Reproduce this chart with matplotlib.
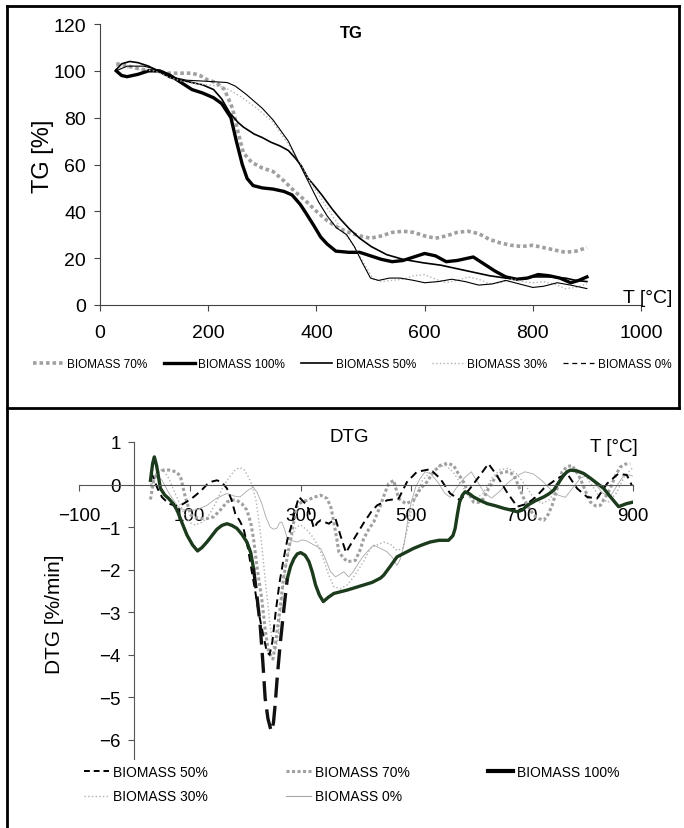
import numpy as np
import matplotlib
matplotlib.use('Agg')
import matplotlib.pyplot as plt
from matplotlib.lines import Line2D

plt.rcParams.update({'font.family': 'Liberation Sans', 'font.size': 12})

# ---- TG data (T in degC, mass in %) ----
tg70_t = [30, 45, 60, 80, 100, 125, 150, 170, 185, 200, 215, 230, 245, 255, 265, 280, 300, 320, 340, 360,
          380, 400, 420, 440, 460, 480, 500, 520, 540, 560, 580, 600, 620, 640, 660, 680, 700, 720, 740, 760,
          780, 800, 820, 840, 860, 880, 900]
tg70 = [103, 102.5, 101.5, 100.5, 100, 99, 99, 99, 98, 96, 95, 92, 84, 74, 65, 61, 58.5, 57, 53, 48.5,
        44.5, 40, 36, 33, 31, 29.5, 28.5, 29.5, 31, 31.5, 31, 29.5, 28.5, 29.5, 31, 31.5, 30.5, 28, 26.5, 25.5,
        25, 25.5, 24.5, 23.5, 22.5, 23, 24.5]

tg100_t = [30, 40, 50, 70, 90, 110, 130, 150, 170, 190, 210, 225, 242, 252, 263, 272, 283, 300, 320, 340,
           355, 370, 380, 395, 408, 420, 436, 460, 480, 500, 520, 540, 560, 580, 600, 620, 640, 660, 690, 710,
           730, 750, 770, 790, 810, 830, 850, 870, 885, 900]
tg100 = [100, 98, 97.5, 98.5, 100, 100, 98, 95, 92, 90.5, 88.5, 86, 80, 70, 60, 54, 51, 50, 49.5, 48.5,
         47, 43, 39.5, 34, 29, 26, 23, 22.5, 22.5, 21, 19.5, 18.5, 19, 20.5, 22, 21, 18.5, 19, 20.5, 17.5,
         14.5, 12, 11, 11.5, 13, 12.5, 11.5, 9.5, 10.5, 12]

tg50_t = [30, 40, 55, 70, 90, 110, 130, 150, 170, 190, 210, 225, 240, 255, 265, 285, 300, 316, 332, 348,
          360, 372, 385, 396, 410, 429, 445, 461, 480, 501, 530, 560, 598, 630, 660, 690, 720, 750, 780, 800,
          830, 860, 880, 900]
tg50 = [100.5, 103, 104, 103.5, 102, 99.5, 97, 96, 95, 94, 92, 88, 82, 78, 76, 73, 71.5, 69.5, 68, 66,
        63, 59.5, 54, 51, 47, 41, 36.5, 32.5, 28.5, 25, 21.5, 19.5, 18, 17, 15.5, 14, 12.5, 11.5, 11, 12,
        12, 11.5, 10.5, 10]

tg30_t = [30, 60, 100, 130, 160, 200, 230, 260, 290, 320, 350, 370, 390, 410, 430, 450, 470, 490, 505, 520,
          540, 560, 580, 600, 620, 640, 660, 680, 700, 720, 740, 760, 780, 800, 820, 840, 860, 880, 900]
tg30 = [102, 101, 100, 97, 95, 94, 93, 89, 84, 78, 68, 60, 52, 45, 38, 31, 25, 17, 11, 10,
        10.5, 11, 12.5, 13, 11, 9.5, 10.5, 12, 11, 9, 9.5, 11, 10, 9.5, 10, 9, 7, 7.5, 9]

tg0_t = [30, 50, 80, 100, 130, 160, 200, 235, 250, 270, 300, 320, 348, 365, 380, 404, 420, 437, 456, 470,
         485, 500, 515, 535, 555, 580, 600, 625, 650, 675, 700, 725, 750, 775, 800, 820, 845, 870, 900]
tg0 = [100, 102, 102, 101, 97.5, 96, 95.5, 95, 93.5, 90, 84, 79, 70, 62, 55, 44, 38, 33, 30, 25,
       18, 11.5, 10.5, 11.5, 11.5, 10.5, 9.5, 10, 11, 10, 8.5, 9, 10.5, 9, 7.5, 8, 9.5, 8.5, 7]

# ---- DTG data (T in degC, rate in %/min) ----
dtg100_t = [29, 33, 36, 40, 47, 55, 62, 70, 77, 86, 95, 105, 114, 122, 131, 140, 149, 158, 167, 176,
            185, 194, 203, 210, 215, 221, 227, 232, 236, 241, 247, 251, 254, 258, 263, 270, 276, 282, 288, 294,
            300, 308, 315, 321, 327, 334, 341, 350, 360, 372, 384, 399, 414, 429, 444, 450, 462, 474, 489, 504,
            519, 534, 550, 567, 575, 579, 583, 587, 592, 597, 605, 612, 625, 637, 652, 667, 680, 691, 700, 709,
            724, 739, 748, 757, 766, 775, 781, 787, 799, 811, 823, 835, 847, 860, 874, 888, 901]
dtg100 = [0.1, 0.5, 0.65, 0.45, -0.09, -0.25, -0.33, -0.45, -0.6, -0.9, -1.19, -1.42, -1.56, -1.48, -1.35, -1.2,
          -1.05, -0.96, -0.92, -0.96, -1.03, -1.17, -1.35, -1.6, -1.97, -2.6, -3.3, -4.2, -5.02, -5.5, -5.8,
          -5.6, -5.18, -4.5, -3.77, -2.9, -2.21, -1.92, -1.74, -1.63, -1.6, -1.66, -1.81, -2.05, -2.36, -2.6,
          -2.75, -2.65, -2.56, -2.52, -2.48, -2.42, -2.36, -2.3, -2.2, -2.13, -1.92, -1.7, -1.6, -1.5, -1.42,
          -1.35, -1.31, -1.31, -1.2, -1.03, -0.7, -0.41, -0.25, -0.17, -0.22, -0.29, -0.38, -0.45, -0.5, -0.56,
          -0.6, -0.64, -0.6, -0.49, -0.38, -0.29, -0.22, -0.13, 0.05, 0.22, 0.3, 0.34, 0.32, 0.26, 0.15, 0.03,
          -0.09, -0.3, -0.52, -0.45, -0.41]

dtg50_t = [30, 36, 42, 50, 62, 75, 83, 95, 107, 120, 131, 140, 149, 158, 167, 175, 182, 190, 197, 205,
           212, 218, 224, 232, 239, 244, 249, 255, 262, 270, 276, 282, 290, 297, 305, 312, 318, 324, 330, 336,
           343, 351, 363, 372, 382, 388, 400, 414, 428, 438, 456, 477, 492, 510, 534, 552, 570, 588, 606, 624,
           639, 654, 672, 691, 709, 724, 739, 763, 781, 799, 817, 835, 853, 874, 889, 898]
dtg50 = [0.3, 0.1, -0.1, -0.3, -0.45, -0.5, -0.49, -0.4, -0.29, -0.15, 0.0, 0.07, 0.1, 0.05, -0.09, -0.35,
         -0.68, -0.85, -1.03, -1.5, -2.05, -2.5, -2.99, -3.5, -3.93, -4.0, -3.7, -3.0, -2.3, -1.7, -1.3, -1.03,
         -0.6, -0.29, -0.4, -0.49, -0.75, -1.03, -0.9, -0.84, -0.88, -0.92, -0.8, -1.2, -1.6, -1.46, -1.2, -0.9,
         -0.63, -0.49, -0.37, -0.33, 0.06, 0.3, 0.36, 0.14, -0.21, -0.37, -0.09, 0.22, 0.49, 0.22, -0.17, -0.52,
         -0.45, -0.3, -0.09, 0.14, 0.26, -0.09, -0.29, -0.33, 0.02, 0.26, 0.22, -0.02]

dtg70_t = [29, 35, 42, 55, 63, 75, 83, 92, 102, 111, 120, 131, 143, 155, 167, 176, 185, 194, 203, 210,
           215, 222, 230, 236, 242, 250, 254, 258, 264, 269, 276, 282, 288, 294, 303, 312, 324, 336, 348, 355,
           360, 365, 369, 377, 384, 392, 399, 407, 414, 423, 432, 444, 452, 459, 468, 477, 490, 504, 516, 528,
           540, 552, 565, 576, 585, 594, 603, 612, 621, 630, 639, 648, 657, 667, 676, 685, 694, 703, 712, 721,
           730, 739, 747, 754, 763, 772, 781, 790, 798, 805, 814, 823, 832, 841, 850, 859, 868, 877, 886, 895]
dtg70 = [-0.35, 0.1, 0.3, 0.35, 0.34, 0.3, 0.2, -0.3, -0.72, -0.78, -0.8, -0.8, -0.76, -0.6, -0.41, -0.36,
         -0.37, -0.45, -0.6, -0.9, -1.27, -2.0, -2.7, -3.4, -3.93, -4.1, -3.8, -3.4, -2.8, -2.2, -1.7, -1.27,
         -0.85, -0.49, -0.4, -0.37, -0.3, -0.25, -0.33, -0.55, -0.88, -1.25, -1.58, -1.72, -1.81, -1.8, -1.78,
         -1.55, -1.27, -1.05, -0.88, -0.5, -0.2, 0.02, 0.1, -0.33, -0.45, -0.37, -0.1, 0.06, 0.3, 0.45, 0.5,
         0.45, 0.25, 0.06, -0.2, -0.41, -0.42, -0.33, -0.1, 0.1, 0.25, 0.3, 0.3, 0.22, -0.05, -0.33, -0.55,
         -0.72, -0.8, -0.84, -0.7, -0.49, -0.1, 0.3, 0.42, 0.45, 0.3, 0.14, -0.15, -0.41, -0.5, -0.49, -0.3,
         -0.09, 0.2, 0.41, 0.48, 0.49]

dtg30_t = [29, 40, 50, 60, 70, 80, 90, 100, 110, 120, 130, 140, 150, 160, 170, 180, 190, 198, 205, 212,
           220, 228, 236, 244, 250, 255, 260, 266, 272, 278, 285, 292, 300, 310, 320, 330, 340, 350, 360, 372,
           384, 394, 402, 414, 426, 438, 450, 462, 474, 484, 492, 500, 510, 520, 535, 550, 562, 575, 590, 602,
           615, 630, 645, 660, 675, 690, 705, 720, 735, 750, 765, 780, 795, 810, 825, 840, 855, 870, 885, 900]
dtg30 = [0.0, 0.3, 0.35, 0.2, -0.1, -0.4, -0.7, -0.9, -0.95, -0.9, -0.8, -0.6, -0.35, -0.05, 0.15, 0.32,
         0.4, 0.35, 0.2, 0.0, -0.4, -1.2, -2.2, -3.2, -3.8, -3.9, -3.5, -2.7, -2.0, -1.6, -1.2, -1.0, -0.95,
         -1.05, -1.2, -1.4, -1.7, -2.1, -2.4, -2.45, -2.36, -2.2, -2.05, -1.8, -1.5, -1.42, -1.35, -1.4, -1.55,
         -1.5, -1.1, -0.6, -0.2, 0.1, 0.3, 0.42, 0.45, 0.3, 0.0, -0.25, -0.35, -0.2, 0.15, 0.35, 0.38, 0.25,
         0.0, -0.3, -0.45, -0.35, 0.0, 0.3, 0.38, 0.28, 0.0, -0.3, -0.42, -0.2, 0.2, 0.4]

dtg0_t = [29, 40, 50, 62, 75, 83, 95, 110, 120, 131, 145, 160, 167, 180, 191, 203, 215, 222, 230, 237,
          245, 251, 257, 262, 266, 271, 276, 285, 294, 303, 312, 324, 336, 345, 354, 363, 372, 378, 383, 387,
          395, 402, 411, 420, 432, 444, 456, 465, 474, 480, 487, 494, 500, 508, 516, 525, 535, 548, 560, 570,
          580, 595, 608, 620, 632, 645, 660, 675, 690, 705, 720, 735, 750, 765, 778, 790, 805, 818, 830, 845,
          858, 870, 885, 900]
dtg0 = [-0.05, 0.2, 0.1, -0.2, -0.45, -0.57, -0.6, -0.6, -0.55, -0.49, -0.35, -0.25, -0.21, -0.27, -0.29,
        -0.15, -0.06, -0.2, -0.45, -0.75, -1.0, -1.05, -1.03, -0.9, -0.88, -1.05, -1.27, -1.32, -1.35, -1.3,
        -1.33, -1.42, -1.5, -1.75, -2.05, -2.17, -2.1, -2.05, -2.12, -2.17, -2.05, -1.9, -1.72, -1.58, -1.42,
        -1.5, -1.58, -1.7, -1.9, -1.75, -1.4, -0.8, -0.4, -0.05, 0.15, 0.3, 0.25, 0.05, -0.2, -0.3, -0.1,
        0.15, 0.3, 0.05, -0.2, -0.32, -0.15, 0.05, 0.2, 0.3, 0.25, 0.1, -0.1, -0.25, -0.3, -0.1, 0.15, 0.22,
        0.05, -0.2, -0.3, -0.05, 0.25, 0.2]

W, H = 684, 829
fig = plt.figure(figsize=(W / 100, H / 100), dpi=100)

# ---------------- TG panel ----------------
ax1 = fig.add_axes([100 / W, 1 - 306 / H, 541 / W, 281 / H])
l70, = ax1.plot(tg70_t, tg70, color='#a0a0a0', lw=2.6, ls=(0, (1, 0.8)), label='BIOMASS 70%')
l100, = ax1.plot(tg100_t, tg100, color='black', lw=2.4, label='BIOMASS 100%')
l50, = ax1.plot(tg50_t, tg50, color='black', lw=1.2, label='BIOMASS 50%')
l30, = ax1.plot(tg30_t, tg30, color='#b5b5b5', lw=1.0, ls=':', label='BIOMASS 30%')
l0, = ax1.plot(tg0_t, tg0, color='black', lw=0.8, label='BIOMASS 0%')
ax1.set_xlim(0, 1000)
ax1.set_ylim(0, 120)
ax1.set_xticks(range(0, 1001, 200))
ax1.set_yticks(range(0, 121, 20))
for s in ['top', 'right']:
    ax1.spines[s].set_visible(False)
for s in ['left', 'bottom']:
    ax1.spines[s].set_color('#444444')
ax1.tick_params(axis='both', labelsize=14, length=4, color='#444444')
ax1.tick_params(axis='x', pad=10)
ax1.tick_params(axis='y', pad=6)
fig.text(351 / W, 1 - 33 / H, 'TG', ha='center', va='center', fontsize=12, fontweight='bold')
fig.text(43 / W, 1 - 156 / H, 'TG [%]', rotation=90, ha='center', va='center', fontsize=17)
fig.text(623 / W, 1 - 303 / H, 'T [°C]', ha='left', va='baseline', fontsize=14)

h0 = Line2D([], [], color='black', lw=0.9, ls=(0, (4, 3)))
fig.legend([l70, l100, l50, l30, h0], [l.get_label() for l in [l70, l100, l50, l30, l0]],
           loc='center', bbox_to_anchor=(352 / W, 1 - 365 / H), ncol=5, frameon=False,
           fontsize=8.5, handlelength=2.6, handletextpad=0.3, columnspacing=1.4)

# ---------------- DTG panel ----------------
ax2 = fig.add_axes([79 / W, 1 - 760 / H, 554 / W, 317 / H])
t100 = np.array(dtg100_t)
v100 = np.array(dtg100)
steep = (t100 >= 215) & (t100 <= 276)
ax2.plot(dtg30_t, dtg30, color='#b0b0b0', lw=1.0, ls=':')
ax2.plot(dtg0_t, dtg0, color='#a8a8a8', lw=0.6)
ax2.plot(dtg70_t, dtg70, color='#a0a0a0', lw=2.2, ls=(0, (1, 0.8)))
ax2.plot(dtg50_t, dtg50, color='black', lw=1.4, ls=(0, (4, 2.5)))
ax2.plot(t100, np.where(steep & ~np.isin(t100, [215, 276]), np.nan, v100), color='#1c3a1c', lw=2.4)
ax2.plot(t100[steep], v100[steep], color='#111111', lw=2.4, ls=(0, (6, 2.5)))

ax2.set_xlim(-100, 900)
ax2.set_ylim(-6.45, 1.0)
ax2.spines['left'].set_position(('data', 0))
ax2.spines['bottom'].set_position(('data', 0))
for s in ['top', 'right']:
    ax2.spines[s].set_visible(False)
for s in ['left', 'bottom']:
    ax2.spines[s].set_color('#555555')
ax2.set_xticks(range(-100, 901, 200))
ax2.set_yticks(range(-6, 2))
ax2.tick_params(axis='both', labelsize=13.5, length=4, color='#555555')
ax2.tick_params(axis='x', pad=12)
ax2.tick_params(axis='y', pad=6)
fig.text(349 / W, 1 - 438 / H, 'DTG', ha='center', va='center', fontsize=13.5)
fig.text(55 / W, 1 - 614 / H, 'DTG [%/min]', rotation=90, ha='center', va='center', fontsize=15)
fig.text(590 / W, 1 - 452 / H, 'T [°C]', ha='left', va='baseline', fontsize=13.5)

hd = [Line2D([], [], color='black', lw=1.4, ls=(0, (3, 2))),
      Line2D([], [], color='#b0b0b0', lw=1.0, ls=':'),
      Line2D([], [], color='#a0a0a0', lw=2.2, ls=(0, (1, 0.8))),
      Line2D([], [], color='#a8a8a8', lw=0.8),
      Line2D([], [], color='black', lw=3)]
labels2 = ['BIOMASS 50%', 'BIOMASS 30%', 'BIOMASS 70%', 'BIOMASS 0%', 'BIOMASS 100%']
fig.legend(hd, labels2, loc='upper left', bbox_to_anchor=(84 / W, 1 - 766 / H), ncol=3,
           frameon=False, fontsize=10, handlelength=1.8, handletextpad=0.3, columnspacing=5.6,
           labelspacing=0.75, borderpad=0, borderaxespad=0)

# ---------------- frame ----------------
kw = dict(transform=fig.transFigure, color='black', lw=2)
fig.add_artist(Line2D([7 / W, 679 / W], [1 - 7 / H, 1 - 7 / H], **kw))
fig.add_artist(Line2D([7 / W, 679 / W], [1 - 409 / H, 1 - 409 / H], **kw))
fig.add_artist(Line2D([7 / W, 7 / W], [1 - 7 / H, 0], **kw))
fig.add_artist(Line2D([679 / W, 679 / W], [1 - 7 / H, 1 - 409 / H], **kw))

fig.savefig('out.png', dpi=100)
print('saved')
